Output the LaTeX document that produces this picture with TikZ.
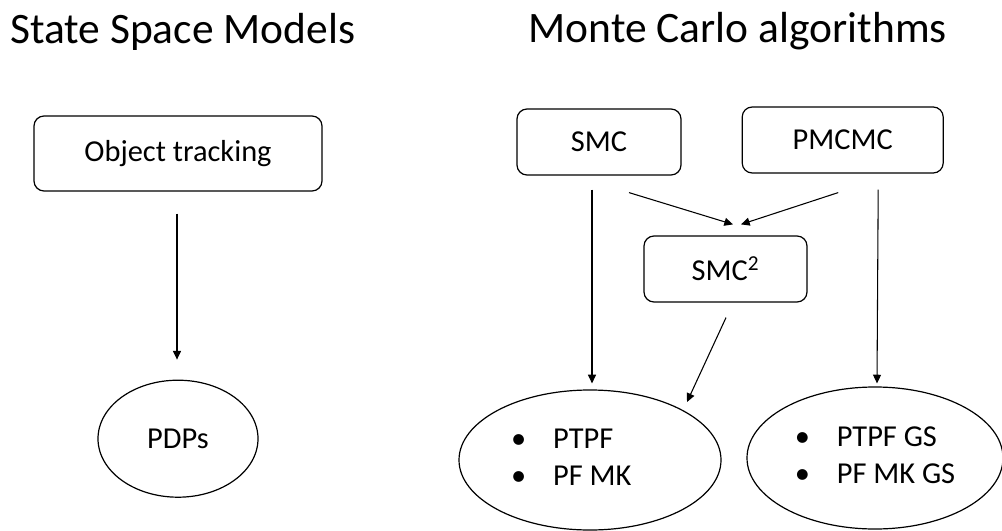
\documentclass[tikz,border=0pt]{standalone}
\usepackage{fontspec}
\setmainfont{Carlito}
\usetikzlibrary{arrows.meta,calc,positioning,shapes.geometric}
\newcommand{\bodysize}{\fontsize{22.8pt}{27.75pt}\selectfont}
\newcommand{\titlesize}{\fontsize{32.6pt}{39pt}\selectfont}
\newcommand{\bitem}[1]{\makebox[31.5pt][l]{\textbullet}#1}

\begin{document}
\begin{tikzpicture}[
    x=0.75pt,y=-0.75pt,
    titletext/.style={anchor=base west,inner sep=0pt,font=\titlesize},
    methodbox/.style={draw,line width=0.9pt,rounded corners=7.5pt,
      minimum height=49.5pt,inner sep=0pt,font=\bodysize},
    appoval/.style={draw,ellipse,line width=0.9pt,inner sep=0pt,font=\bodysize},
    arrow/.style={-{Triangle[length=6.5pt,width=6pt]},line width=0.8pt},
    node distance=141pt and 45pt
  ]
    \useasboundingbox (0,0) rectangle (1002,531);

    \node[titletext] (ssm) at (10,44) {State Space Models};
    \node[titletext] (mc) at (528.5,43) {Monte Carlo algorithms};

    \node[methodbox,minimum width=216pt,minimum height=56.25pt] (track) at (178,153.5) {Object tracking};
    \node[appoval,minimum width=120pt,minimum height=87.75pt,below=of track] (pdps) {PDPs};

    \node[methodbox,minimum width=123pt] (smc) at (599,142) {SMC};
    \node[methodbox,minimum width=150.75pt,right=of smc,yshift=1.5pt] (pmcmc) {PMCMC};
    \node[methodbox,minimum width=122.25pt] (smcsq) at (725.5,269) {SMC\textsuperscript{2}};

    \node[appoval,minimum width=196.5pt,minimum height=105pt] (pf) at (590,460)
      {\begin{tabular}{@{}l@{\hspace{28pt}}}\bitem{PTPF}\\\bitem{PF MK}\end{tabular}};
    \node[appoval,minimum width=192pt,minimum height=106.5pt] (gs) at (875,458)
      {\begin{tabular}{@{}l@{}}\bitem{PTPF GS}\\\bitem{PF MK GS}\end{tabular}};

    \draw[arrow] ($(track.south)+(-1,22)$) -- ($(pdps.north)+(-1,-20)$);
    \draw[arrow] ($(smc.south)+(-7,14)$) -- ($(pf.north)+(2,-6)$);
    \draw[arrow] ($(pmcmc.south)+(35.5,16)$) -- ($(gs.north)+(2,-3)$);
    \draw[arrow] ($(smc.south)+(30,17)$) -- ($(smcsq.north)+(7.5,-11)$);
    \draw[arrow] ($(pmcmc.south)+(-4.5,19)$) -- ($(smcsq.north)+(15.5,-11)$);
    \draw[arrow] ($(smcsq.south)+(0.5,15)$) -- ($(pf.center)+(97,-58)$);
  \end{tikzpicture}
\end{document}
